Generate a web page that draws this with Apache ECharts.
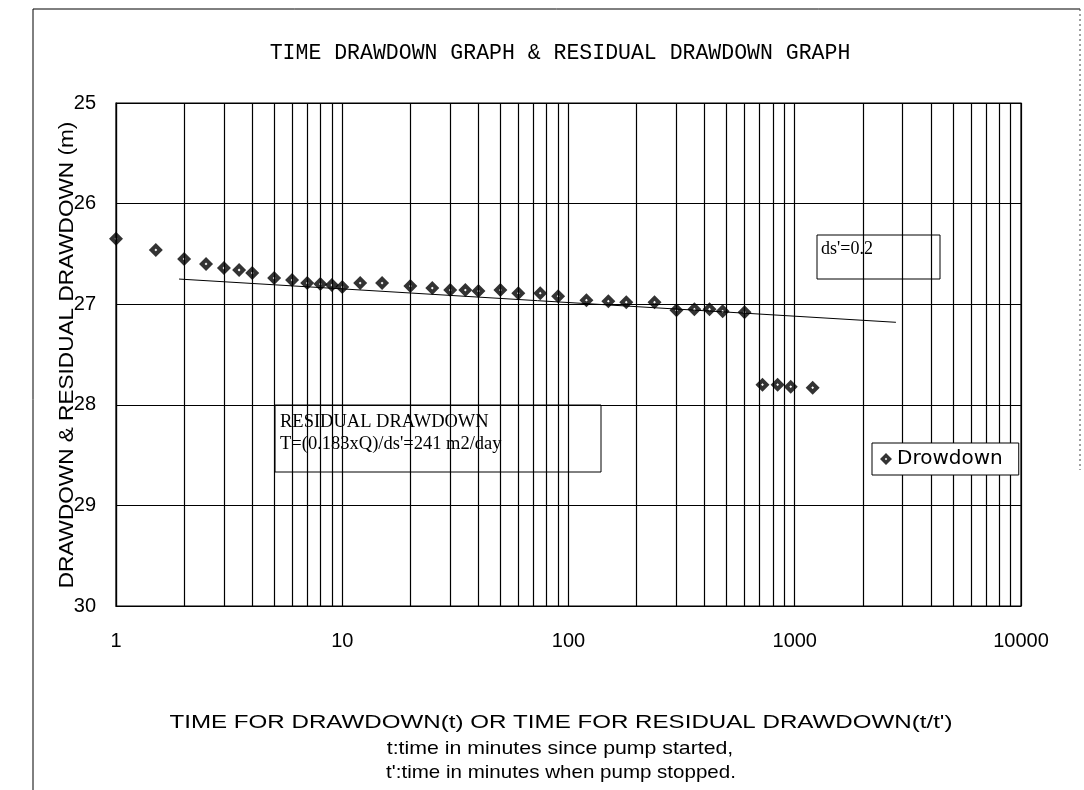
<!DOCTYPE html>
<html>
<head>
<meta charset="utf-8">
<title>Time Drawdown Graph & Residual Drawdown Graph</title>
<script src="https://cdn.jsdelivr.net/npm/echarts@6/dist/echarts.min.js"></script>
<style>
  html, body { margin: 0; padding: 0; background: #fff; }
  #chart { width: 1084px; height: 790px; }
</style>
</head>
<body>
<div id="chart"></div>
<script>
// Elapsed time (minutes) and measured drawdown (m)
const times = [1, 1.5, 2, 2.5, 3, 3.5, 4, 5, 6, 7, 8, 9, 10, 12, 15, 20, 25, 30, 35, 40,
  50, 60, 75, 90, 120, 150, 180, 240, 300, 360, 420, 480, 600, 720, 840, 960, 1200];
const drawdown = [26.35, 26.46, 26.55, 26.60, 26.64, 26.66, 26.69, 26.74, 26.76, 26.79,
  26.80, 26.81, 26.83, 26.79, 26.79, 26.82, 26.84, 26.86, 26.86, 26.87,
  26.86, 26.89, 26.89, 26.92, 26.96, 26.97, 26.98, 26.98, 27.06, 27.05,
  27.05, 27.07, 27.08, 27.80, 27.80, 27.82, 27.83];

// Straight-line fit through the residual drawdown (ends of the line)
const fitTimes = [1.9, 2800];
const fitDrawdown = [26.75, 27.18];

// Log-cycle intermediate grid values (2..9 in every decade)
const minorTimes = [];
[1, 10, 100, 1000].forEach(d => { for (let k = 2; k <= 9; k++) minorTimes.push(k * d); });

const xTickLabels = ['1', '10', '100', '1000', '10000'];
const yTicks = [25, 26, 27, 28, 29, 30];

const seriesName = 'Drowdown';
const titleText = 'TIME DRAWDOWN GRAPH & RESIDUAL DRAWDOWN GRAPH';
const yName = 'DRAWDOWN & RESIDUAL DRAWDOWN (m)';
const xNameLines = [
  "TIME FOR DRAWDOWN(t) OR TIME FOR RESIDUAL DRAWDOWN(t/t')",
  't:time in minutes since pump started,',
  "t':time in minutes when pump stopped."
];
const noteResidual = ['RESIDUAL DRAWDOWN', "T=(0.183xQ)/ds'=241 m2/day"];
const noteSlope = "ds'=0.2";

const diamond = 'path://M0,-1 L1,0 L0,1 L-1,0 Z M0,-0.2 L-0.2,0 L0,0.2 L0.2,0 Z';

const chart = echarts.init(document.getElementById('chart'), null, { renderer: 'canvas' });

const sans = 'Liberation Sans, Arial, sans-serif';
const serif = 'Liberation Serif, Times New Roman, serif';

chart.setOption({
  animation: false,
  backgroundColor: '#fff',
  grid: {
    left: 116, right: 63, top: 103, bottom: 184,
    show: true, borderColor: '#000', borderWidth: 1.2, backgroundColor: 'transparent'
  },
  xAxis: {
    type: 'log', logBase: 10, min: 1, max: 10000,
    axisLine: { show: true, lineStyle: { color: '#000', width: 1.2 } },
    axisTick: { show: false },
    axisLabel: {
      color: '#000', fontFamily: sans, fontSize: 20, margin: 25,
      formatter: v => xTickLabels[Math.round(Math.log10(v))]
    },
    splitLine: { show: true, lineStyle: { color: '#000', width: 1.2 } }
  },
  yAxis: {
    type: 'value', inverse: true, min: yTicks[0], max: yTicks[yTicks.length - 1], interval: 1,
    axisLine: { show: true, lineStyle: { color: '#000', width: 1.2 } },
    axisTick: { show: false },
    axisLabel: { color: '#000', fontFamily: sans, fontSize: 20, margin: 20 },
    splitLine: { show: true, lineStyle: { color: '#000', width: 1.2 } }
  },
  legend: {
    data: [seriesName],
    left: 872, top: 443,
    orient: 'vertical',
    backgroundColor: '#fff',
    borderColor: '#000', borderWidth: 1,
    padding: [6, 16, 6, 8],
    itemWidth: 12, itemHeight: 12,
    icon: diamond,
    textStyle: { color: '#000', fontFamily: 'DejaVu Sans, sans-serif', fontSize: 20 },
    z: 10
  },
  series: [
    {
      // intermediate log-cycle grid lines
      type: 'line', data: [], z: 1, silent: true,
      markLine: {
        silent: true, symbol: 'none', label: { show: false },
        lineStyle: { color: '#000', type: 'solid', width: 1.2 },
        data: minorTimes.map(v => ({ xAxis: v }))
      }
    },
    {
      name: 'fit', type: 'line', z: 2, silent: true,
      showSymbol: false, symbol: 'none',
      lineStyle: { color: '#000', width: 1 },
      data: fitTimes.map((t, i) => [t, fitDrawdown[i]])
    },
    {
      name: seriesName, type: 'scatter', z: 3,
      symbol: diamond, symbolSize: 14,
      itemStyle: { color: '#000' },
      data: times.map((t, i) => [t, drawdown[i]])
    }
  ],
  graphic: [
    // page frame
    { type: 'line', z: 0, shape: { x1: 33, y1: 9, x2: 33, y2: 790 }, style: { stroke: '#000', lineWidth: 1 } },
    { type: 'line', z: 0, shape: { x1: 33, y1: 9, x2: 1080, y2: 9 }, style: { stroke: '#000', lineWidth: 1 } },
    { type: 'line', z: 0, shape: { x1: 1080, y1: 9, x2: 1080, y2: 470 }, style: { stroke: '#444', lineWidth: 1, lineDash: [2, 3] } },
    // title
    {
      type: 'text', x: 560, y: 53, z: 5,
      style: { text: titleText, fill: '#000', font: '21.5px "Liberation Mono", monospace', textAlign: 'center', textVerticalAlign: 'middle' }
    },
    // vertical axis title
    {
      type: 'text', x: 67, y: 355, rotation: Math.PI / 2, z: 5,
      style: { text: yName, fill: '#000', font: '20px ' + sans, textAlign: 'center', textVerticalAlign: 'middle' },
      scaleX: 1.13
    },
    // horizontal axis title and notes
    {
      type: 'text', x: 561, y: 723, z: 5, scaleX: 1.27,
      style: { text: xNameLines[0], fill: '#000', font: '19px ' + sans, textAlign: 'center', textVerticalAlign: 'middle' }
    },
    {
      type: 'text', x: 560, y: 749, z: 5, scaleX: 1.15,
      style: { text: xNameLines[1], fill: '#000', font: '18.5px ' + sans, textAlign: 'center', textVerticalAlign: 'middle' }
    },
    {
      type: 'text', x: 561, y: 773, z: 5, scaleX: 1.11,
      style: { text: xNameLines[2], fill: '#000', font: '18.5px ' + sans, textAlign: 'center', textVerticalAlign: 'middle' }
    },
    // transmissivity note
    {
      type: 'group', z: 10,
      children: [
        { type: 'rect', shape: { x: 275, y: 405, width: 326, height: 67 }, style: { fill: '#fff', stroke: '#000', lineWidth: 1 } },
        { type: 'text', x: 280, y: 422, style: { text: noteResidual[0], fill: '#000', font: '18.5px ' + serif, textVerticalAlign: 'middle' } },
        { type: 'text', x: 280, y: 444, style: { text: noteResidual[1], fill: '#000', font: '18.5px ' + serif, textVerticalAlign: 'middle' } }
      ]
    },
    // slope note
    {
      type: 'group', z: 10,
      children: [
        { type: 'rect', shape: { x: 817, y: 235, width: 123, height: 44 }, style: { fill: '#fff', stroke: '#000', lineWidth: 1 } },
        { type: 'text', x: 821, y: 249, style: { text: noteSlope, fill: '#000', font: '18px ' + serif, textVerticalAlign: 'middle' } }
      ]
    }
  ]
});
</script>
</body>
</html>
